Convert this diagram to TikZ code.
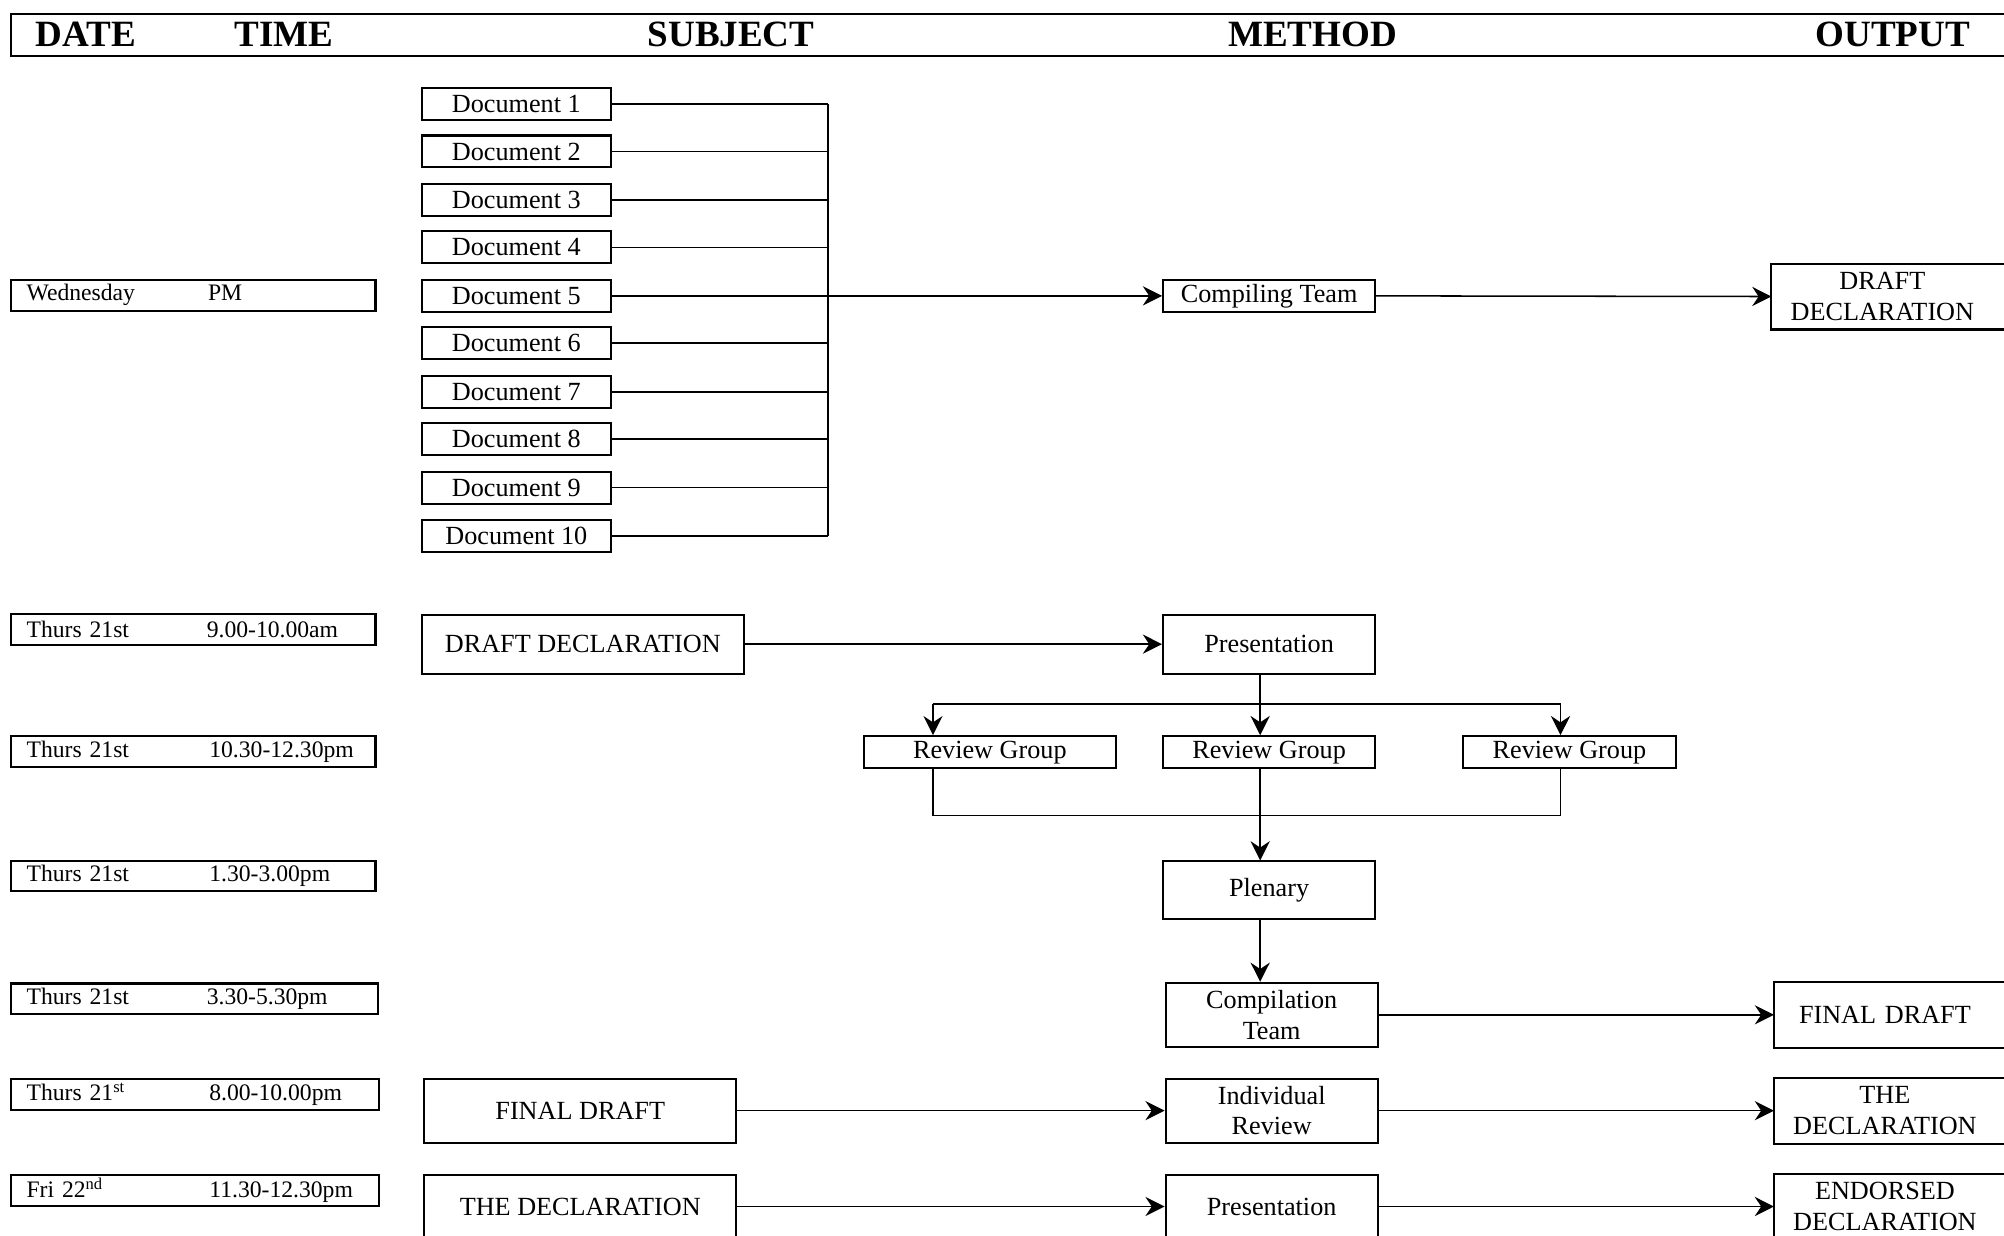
\documentclass[tikz,border=0pt]{standalone}
\usepackage{fontspec}
\setmainfont{Liberation Serif}
\usetikzlibrary{arrows.meta}
\begin{document}
\begin{tikzpicture}[x=1pt,y=-1pt,
  box/.style={draw, line width=1.6pt, inner sep=0pt, align=center, font=\fontsize{20.5}{24}\selectfont},
  outbox/.style={box, draw=none, anchor=west, text width=172pt, minimum height=50pt},
  datebox/.style={draw, line width=1.6pt, anchor=west, inner xsep=12pt, inner ysep=0pt, minimum height=24pt, text width=261pt, align=left, font=\fontsize{18.5}{22}\selectfont},
  head/.style={font=\fontsize{29}{34}\selectfont\bfseries, inner sep=0pt},
  conn/.style={line width=1.2pt},
  arr/.style={conn, -{Stealth[length=15pt,width=15pt,inset=5pt]}},
  obord/.style={line width=1.6pt},
]
\useasboundingbox (0,0) rectangle (1568,967);

% header
\node[draw, line width=1.6pt, anchor=north west, minimum width=1600pt, minimum height=33pt, inner sep=0pt] (hdr) at (8,10) {};
\node[head] (hdate) at (67,27) {DATE};
\node[head] (htime) at (222,27) {TIME};
\node[head] (hsubj) at (572,27) {SUBJECT};
\node[head] (hmeth) at (1027,27) {METHOD};
\node[head] (hout) at (1481,27) {OUTPUT};

% date boxes
\node[datebox] (r1) at (8,231) {\makebox[142pt][l]{Wednesday}PM};
\node[datebox] (r2) at (8,492.5) {\makebox[141pt][l]{Thurs 21st}9.00-10.00am};
\node[datebox] (r3) at (8,588) {\makebox[143pt][l]{Thurs 21st}10.30-12.30pm};
\node[datebox] (r4) at (8,685.5) {\makebox[143pt][l]{Thurs 21st}1.30-3.00pm};
\node[datebox, text width=263pt] (r5) at (8,781.5) {\makebox[141pt][l]{Thurs 21st}3.30-5.30pm};
\node[datebox, text width=264pt] (r6) at (8,856.5) {\makebox[143pt][l]{Thurs 21\textsuperscript{st}}8.00-10.00pm};
\node[datebox, text width=264pt] (r7) at (8,931.5) {\makebox[143pt][l]{Fri 22\textsuperscript{nd}}11.30-12.30pm};

% documents
\foreach \i/\y in {1/81.5,2/118.5,3/156.5,4/193.5,5/231.5,6/268.5,7/306.5,8/343.5,9/381.5,10/419.5}
  \node[box, minimum width=148pt, minimum height=25pt] (d\i) at (404,\y) {Document \i};
\coordinate (bus) at (648,0);
\foreach \i in {1,2,3,4,6,7,8,9,10}
  \draw[conn] (d\i.east) -- (d\i.east -| bus);
\draw[conn] (d1.east -| bus) -- (d10.east -| bus);

% row 1
\node[box, minimum width=166pt, minimum height=25pt] (ct) at (993,231.5) {Compiling Team};
\node[outbox] (ddo) at (1386,232) {DRAFT\\DECLARATION};
\draw[obord] (ddo.north west) rectangle ([xshift=40pt]ddo.south east);
\draw[arr] (d5.east) -- (ct.west);
\draw[arr] (ct.east) -- (ddo.west);

% row 2
\node[box, minimum width=252pt, minimum height=46pt] (sdd) at (456,504) {DRAFT DECLARATION};
\node[box, minimum width=166pt, minimum height=46pt] (p1) at (993,504) {Presentation};
\draw[arr] (sdd.east) -- (p1.west);

% review groups
\node[box, minimum width=197pt, minimum height=25pt] (rg1) at (774.5,588.5) {Review Group};
\node[box, minimum width=166pt, minimum height=25pt] (rg2) at (993,588.5) {Review Group};
\node[box, minimum width=166pt, minimum height=25pt] (rg3) at (1228,588.5) {Review Group};
\coordinate (xl) at (730,0);
\coordinate (xm) at (986,0);
\coordinate (xr) at (1221,0);
\coordinate (br) at (0,551);
\coordinate (mg) at (0,638);
\draw[conn] (p1.south -| xm) -- (br -| xm);
\draw[conn] (br -| xl) -- (br -| xr);
\draw[arr] (br -| xl) -- (rg1.north -| xl);
\draw[arr] (br -| xm) -- (rg2.north -| xm);
\draw[arr] (br -| xr) -- (rg3.north -| xr);
\draw[conn] (rg1.south -| xl) -- (mg -| xl) -- (mg -| xr) -- (rg3.south -| xr);

% plenary
\node[box, minimum width=166pt, minimum height=45pt] (pl) at (993,696.5) {Plenary};
\draw[arr] (rg2.south -| xm) -- (pl.north -| xm);

% compilation team
\node[box, minimum width=166pt, minimum height=50pt] (cmp) at (995,794) {Compilation\\Team};
\draw[arr] (pl.south -| xm) -- (cmp.north -| xm);
\node[outbox] (fdo) at (1388,794) {FINAL DRAFT};
\draw[obord] (fdo.north west) rectangle ([xshift=40pt]fdo.south east);
\draw[arr] (cmp.east) -- (fdo.west);

% final draft row
\node[box, minimum width=244pt, minimum height=50pt] (sfd) at (454,869) {FINAL DRAFT};
\node[box, minimum width=166pt, minimum height=50pt] (ir) at (995,869) {Individual\\Review};
\node[outbox] (tdo) at (1388,869) {THE\\DECLARATION};
\draw[obord] (tdo.north west) rectangle ([xshift=40pt]tdo.south east);
\draw[arr] (sfd.east) -- (ir.west);
\draw[arr] (ir.east) -- (tdo.west);

% declaration row
\node[box, minimum width=244pt, minimum height=50pt] (std) at (454,944) {THE DECLARATION};
\node[box, minimum width=166pt, minimum height=50pt] (p2) at (995,944) {Presentation};
\node[outbox] (edo) at (1388,944) {ENDORSED\\DECLARATION};
\draw[obord] (edo.north west) rectangle ([xshift=40pt]edo.south east);
\draw[arr] (std.east) -- (p2.west);
\draw[arr] (p2.east) -- (edo.west);
\end{tikzpicture}
\end{document}
